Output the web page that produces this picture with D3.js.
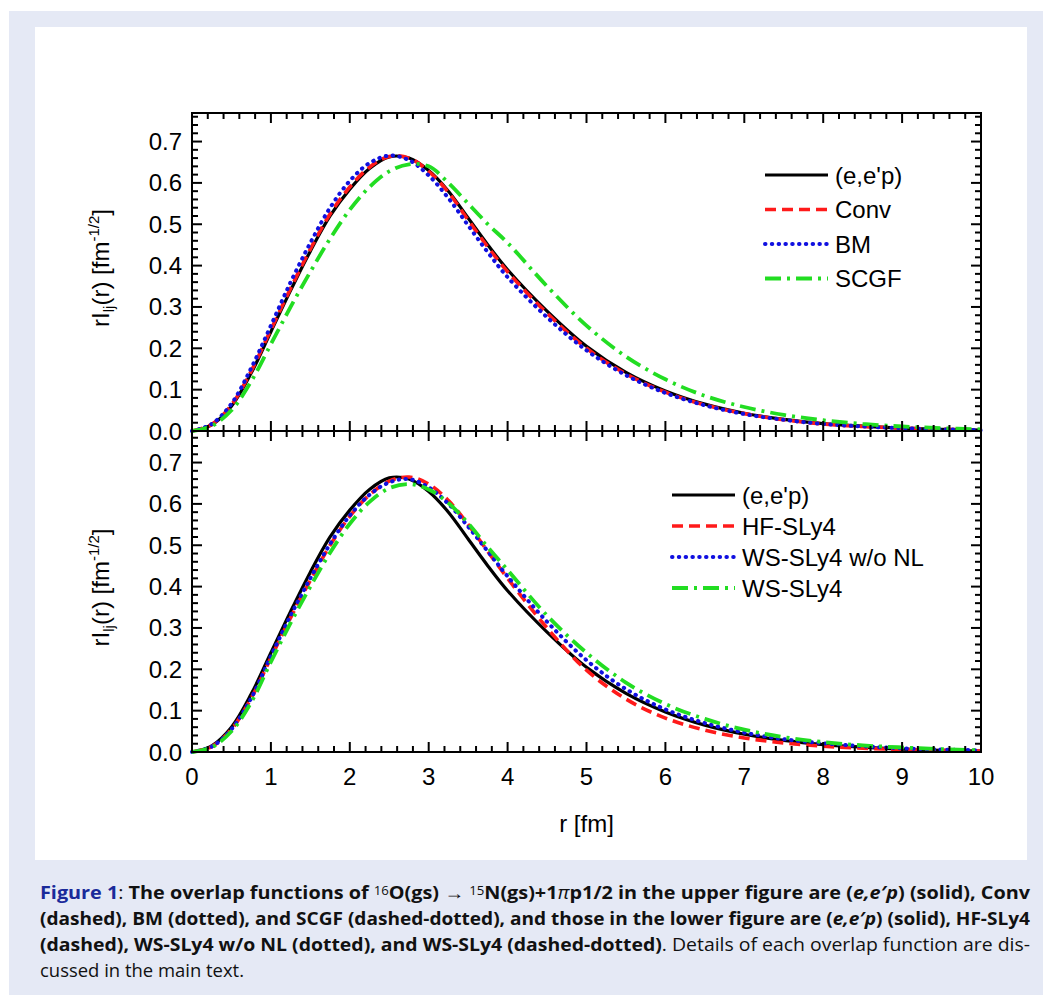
<!DOCTYPE html>
<html>
<head>
<meta charset="utf-8">
<script src="https://cdn.jsdelivr.net/npm/d3@7"></script>
<style>
  body { margin: 0; background: #fff; }
  svg text { font-family: "Liberation Sans", Arial, sans-serif; }
</style>
</head>
<body>
<div class="canvas"></div>
<script>
// sample radii (fm)
const rValues = [0, 0.25, 0.5, 0.75, 1, 1.25, 1.5, 1.75, 2, 2.25, 2.5, 2.75, 3, 3.25, 3.5, 3.75, 4, 4.5, 5, 5.5, 6, 6.5, 7, 7.5, 8, 8.5, 9, 9.5, 10];

// upper figure
const eepValues  = [0, 0.015, 0.06, 0.14, 0.24, 0.34, 0.435, 0.52, 0.585, 0.635, 0.663, 0.66, 0.63, 0.58, 0.515, 0.45, 0.39, 0.29, 0.205, 0.142, 0.097, 0.065, 0.043, 0.028, 0.018, 0.012, 0.007, 0.004, 0.002];
const convValues = [0, 0.016, 0.063, 0.145, 0.245, 0.345, 0.44, 0.525, 0.59, 0.638, 0.664, 0.66, 0.628, 0.577, 0.51, 0.445, 0.385, 0.285, 0.2, 0.138, 0.094, 0.063, 0.042, 0.027, 0.017, 0.011, 0.007, 0.004, 0.002];
const bmValues   = [0, 0.017, 0.066, 0.152, 0.255, 0.36, 0.455, 0.54, 0.605, 0.648, 0.666, 0.655, 0.618, 0.563, 0.497, 0.432, 0.372, 0.275, 0.195, 0.135, 0.092, 0.062, 0.041, 0.027, 0.017, 0.011, 0.007, 0.004, 0.002];
const scgfValues = [0, 0.012, 0.05, 0.12, 0.21, 0.3, 0.385, 0.465, 0.535, 0.59, 0.628, 0.645, 0.64, 0.6, 0.55, 0.5, 0.455, 0.35, 0.255, 0.18, 0.125, 0.085, 0.058, 0.039, 0.026, 0.017, 0.011, 0.007, 0.004];

// lower figure
const hfValues     = [0, 0.013, 0.055, 0.13, 0.228, 0.325, 0.415, 0.5, 0.57, 0.622, 0.655, 0.665, 0.648, 0.608, 0.55, 0.485, 0.42, 0.3, 0.198, 0.128, 0.082, 0.053, 0.034, 0.022, 0.014, 0.009, 0.006, 0.004, 0.002];
const wsNoNlValues = [0, 0.013, 0.055, 0.13, 0.232, 0.33, 0.42, 0.503, 0.572, 0.622, 0.652, 0.66, 0.64, 0.6, 0.545, 0.485, 0.425, 0.315, 0.222, 0.152, 0.103, 0.07, 0.047, 0.031, 0.021, 0.014, 0.009, 0.006, 0.004];
const wsValues     = [0, 0.011, 0.05, 0.12, 0.218, 0.312, 0.4, 0.482, 0.552, 0.605, 0.638, 0.648, 0.635, 0.602, 0.553, 0.495, 0.44, 0.33, 0.24, 0.168, 0.116, 0.08, 0.054, 0.036, 0.024, 0.016, 0.011, 0.007, 0.004];

const topNames = ["(e,e'p)", "Conv", "BM", "SCGF"];
const bottomNames = ["(e,e'p)", "HF-SLy4", "WS-SLy4 w/o NL", "WS-SLy4"];
const xTicks = [0, 1, 2, 3, 4, 5, 6, 7, 8, 9, 10];
const yTicks = [0, 0.1, 0.2, 0.3, 0.4, 0.5, 0.6, 0.7];

// line styles: solid, dashed, dotted, dash-dot
const styles = [
  {color: '#000000', dash: null, cap: 'butt', w: 3.2},
  {color: '#ff1a1a', dash: '11 6', cap: 'butt', w: 3.6},
  {color: '#1010e0', dash: '0.5 6.3', cap: 'round', w: 4},
  {color: '#22dd22', dash: '16 6 3 6', cap: 'butt', w: 3.8}
];

const svg = d3.select('.canvas')
  .append('svg')
    .attr('width', 1043)
    .attr('height', 998);

// page backgrounds
svg.append('rect').attr('x', 9).attr('y', 11).attr('width', 1040).attr('height', 984).attr('fill', '#e5e9f5');
svg.append('rect').attr('x', 35).attr('y', 27).attr('width', 992).attr('height', 833).attr('fill', '#ffffff');

const left = 192, right = 981;
const x = d3.scaleLinear().domain([0, 10]).range([left, right]);

const panels = [
  {top: 113, bottom: 431, series: [eepValues, convValues, bmValues, scgfValues], names: topNames,
   legend: {x: 765, y: 175, step: 34.5, len: 63}, bottomLabels: false},
  {top: 431, bottom: 752, series: [eepValues, hfValues, wsNoNlValues, wsValues], names: bottomNames,
   legend: {x: 672, y: 495, step: 31, len: 63}, bottomLabels: true}
];

panels.forEach(p => {
  const y = d3.scaleLinear().domain([0, 0.7]).range([p.bottom, p.bottom - 0.7 * 413.5]);
  const g = svg.append('g');

  // curves
  const line = d3.line()
    .x((d, i) => x(rValues[i]))
    .y(d => y(d))
    .curve(d3.curveCatmullRom.alpha(0.5));

  p.series.forEach((vals, i) => {
    const s = styles[i];
    g.append('path')
      .datum(vals)
      .attr('d', line)
      .attr('fill', 'none')
      .attr('stroke', s.color)
      .attr('stroke-width', s.w)
      .attr('stroke-linecap', s.cap)
      .attr('stroke-dasharray', s.dash);
  });

  // frame
  g.append('rect')
    .attr('x', left).attr('y', p.top)
    .attr('width', right - left).attr('height', p.bottom - p.top)
    .attr('fill', 'none').attr('stroke', '#000').attr('stroke-width', 2);

  // x ticks, inward on both top and bottom edges
  const xMinor = d3.range(0, 10.001, 0.2);
  xMinor.forEach(t => {
    const major = Math.abs(t - Math.round(t)) < 1e-6;
    const len = major ? 10 : 6;
    g.append('line').attr('x1', x(t)).attr('x2', x(t))
      .attr('y1', p.bottom).attr('y2', p.bottom - len)
      .attr('stroke', '#000').attr('stroke-width', 2);
    g.append('line').attr('x1', x(t)).attr('x2', x(t))
      .attr('y1', p.top).attr('y2', p.top + len)
      .attr('stroke', '#000').attr('stroke-width', 2);
  });

  // y ticks, inward on left and right
  const yMinor = d3.range(0, 0.7701, 0.02);
  yMinor.forEach(t => {
    const major = Math.abs(t * 10 - Math.round(t * 10)) < 1e-6;
    const len = major ? 10 : 6;
    g.append('line').attr('x1', left).attr('x2', left + len)
      .attr('y1', y(t)).attr('y2', y(t))
      .attr('stroke', '#000').attr('stroke-width', 2);
    g.append('line').attr('x1', right).attr('x2', right - len)
      .attr('y1', y(t)).attr('y2', y(t))
      .attr('stroke', '#000').attr('stroke-width', 2);
  });

  // y tick labels
  g.selectAll('.ylab')
    .data(yTicks)
    .enter().append('text')
      .attr('x', 182)
      .attr('y', d => y(d) + 8.5)
      .attr('text-anchor', 'end')
      .attr('font-size', 24)
      .text(d => d.toFixed(1));

  // y axis title
  const midY = (p.top + p.bottom) / 2 - 4;
  const yt = g.append('text')
    .attr('transform', `translate(109, ${midY}) rotate(-90)`)
    .attr('text-anchor', 'middle')
    .attr('font-size', 24);
  yt.append('tspan').text('rI');
  yt.append('tspan').attr('font-size', 15).attr('dy', 5).text('lj');
  yt.append('tspan').attr('dy', -5).text('(r) [fm');
  yt.append('tspan').attr('font-size', 15).attr('dy', -10).text('-1/2');
  yt.append('tspan').attr('dy', 10).text(']');

  // legend
  p.names.forEach((name, i) => {
    const s = styles[i];
    const ly = p.legend.y + i * p.legend.step;
    g.append('line')
      .attr('x1', p.legend.x).attr('x2', p.legend.x + p.legend.len)
      .attr('y1', ly).attr('y2', ly)
      .attr('stroke', s.color).attr('stroke-width', s.w)
      .attr('stroke-linecap', s.cap)
      .attr('stroke-dasharray', s.dash);
    g.append('text')
      .attr('x', p.legend.x + p.legend.len + 7)
      .attr('y', ly + 8.5)
      .attr('font-size', 24)
      .text(name);
  });

  if (p.bottomLabels) {
    g.selectAll('.xlab')
      .data(xTicks)
      .enter().append('text')
        .attr('x', d => x(d))
        .attr('y', 785)
        .attr('text-anchor', 'middle')
        .attr('font-size', 24)
        .text(d => d);
    g.append('text')
      .attr('x', (left + right) / 2)
      .attr('y', 832)
      .attr('text-anchor', 'middle')
      .attr('font-size', 24)
      .text('r [fm]');
  }
});

// caption below the figure
const capFont = '"Liberation Sans Narrow", "Open Sans", sans-serif';
const capLines = [
  {y: 899, len: 990, parts: [
    {t: 'Figure 1', w: 'bold', c: '#1a2a9a'}, {t: ': '},
    {t: 'The overlap functions of ', w: 'bold'}, {t: '16', sup: true}, {t: 'O(gs) ', w: 'bold'},
    {t: '→ '}, {t: '15', sup: true}, {t: 'N(gs)+1', w: 'bold'}, {t: 'π', i: true},
    {t: 'p1/2 in the upper figure are (', w: 'bold'}, {t: 'e,e′p', w: 'bold', i: true},
    {t: ') (solid), Conv', w: 'bold'}]},
  {y: 925, len: 990, parts: [
    {t: '(dashed), BM (dotted), and SCGF (dashed-dotted), and those in the lower figure are (', w: 'bold'},
    {t: 'e,e′p', w: 'bold', i: true}, {t: ') (solid), HF-SLy4', w: 'bold'}]},
  {y: 951, len: 990, parts: [
    {t: '(dashed), WS-SLy4 w/o NL (dotted), and WS-SLy4 (dashed-dotted)', w: 'bold'},
    {t: '. Details of each overlap function are dis-'}]},
  {y: 977, len: 204, parts: [{t: 'cussed in the main text.'}]}
];

capLines.forEach(l => {
  const t = svg.append('text')
    .attr('x', 40).attr('y', l.y)
    .attr('font-size', 18)
    .style('font-family', capFont)
    .attr('fill', '#111')
    .attr('textLength', l.len)
    .attr('lengthAdjust', 'spacingAndGlyphs');
  l.parts.forEach(pt => {
    const s = t.append('tspan').text(pt.t);
    if (pt.w) s.attr('font-weight', pt.w);
    if (pt.i) s.attr('font-style', 'italic');
    if (pt.c) s.attr('fill', pt.c);
    if (pt.sup) s.attr('font-size', 12).attr('baseline-shift', '35%');
  });
});
</script>
</body>
</html>
